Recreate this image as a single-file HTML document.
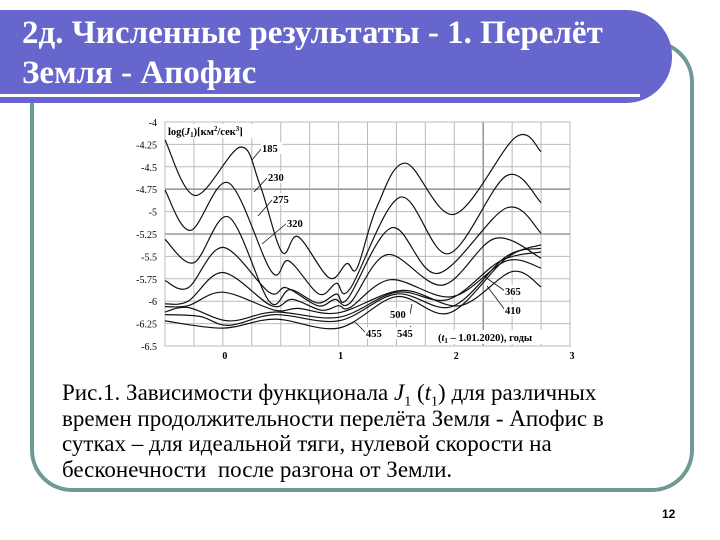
<!DOCTYPE html>
<html><head><meta charset="utf-8">
<style>
body{margin:0;width:720px;height:540px;background:#fff;position:relative;overflow:hidden;font-family:"Liberation Serif","DejaVu Serif",serif}
#frame{position:absolute;left:30px;top:40px;width:656px;height:444px;border:4px solid #6e9a96;border-radius:42px}
#banner{position:absolute;left:0;top:10px;width:672px;height:93px;background:#6666cc;border-radius:0 46px 46px 0}
#bline{position:absolute;left:0;top:94px;width:640px;height:3px;background:#fff}
#title{position:absolute;left:22px;top:13px;color:#fff;font-weight:bold;font-size:33px;line-height:40px;font-family:"Liberation Serif","DejaVu Serif",serif;white-space:nowrap}
#caption{position:absolute;left:62px;top:380px;font-size:23px;line-height:25.5px;color:#000;font-family:"Liberation Serif","DejaVu Serif",serif;white-space:nowrap}
#caption sub{font-size:14px;line-height:0}
#pnum{position:absolute;left:662px;top:507px;font:bold 12px "Liberation Sans",sans-serif}
svg{position:absolute;left:0;top:0}
</style></head><body>
<div id="frame"></div>
<div id="banner"></div>
<div id="bline"></div>
<div id="title">2д. Численные результаты - 1. Перелёт<br>Земля - Апофис</div>
<svg id="chart" width="720" height="540"></svg>
<div id="caption">Рис.1. Зависимости функционала <i>J</i><sub>1</sub> (<i>t</i><sub>1</sub>) для различных<br>времен продолжительности перелёта Земля - Апофис в<br>сутках – для идеальной тяги, нулевой скорости на<br>бесконечности&nbsp; после разгона от Земли.</div>
<div id="pnum">12</div>
<script>
const seriesNames=["185","230","275","320","365","410","455","500","545"];
const t185=[-0.5,-0.24,0.15,0.32,0.51,0.65,0.92,1.07,1.16,1.33,1.58,2.0,2.53,2.75];
const v185=[-4.2,-4.82,-4.28,-4.7,-5.45,-5.28,-5.74,-5.58,-5.63,-4.95,-4.46,-5.03,-4.17,-4.33];
const t230=[-0.5,-0.28,0.05,0.42,0.57,0.83,0.98,1.1,1.53,1.95,2.45,2.75];
const v230=[-4.76,-5.21,-4.68,-5.67,-5.55,-5.92,-5.8,-5.86,-4.84,-5.47,-4.6,-4.9];
const t275=[-0.5,-0.25,0.05,0.4,0.58,0.82,0.98,1.08,1.46,1.86,2.45,2.75];
const v275=[-5.31,-5.57,-5.06,-6.0,-5.87,-6.02,-5.92,-5.97,-5.18,-5.69,-4.96,-5.24];
const t320=[-0.5,-0.3,0.0,0.4,0.55,0.82,0.97,1.1,1.42,1.9,2.35,2.75];
const v320=[-5.77,-5.85,-5.4,-5.9,-5.85,-6.05,-5.98,-6.02,-5.48,-5.82,-5.3,-5.52];
const t365=[-0.5,-0.3,0.0,0.42,0.6,0.85,1.0,1.1,1.45,1.98,2.45,2.75];
const v365=[-6.03,-6.0,-5.68,-6.05,-5.98,-6.1,-6.05,-6.07,-5.76,-5.95,-5.55,-5.63];
const t410=[-0.5,-0.3,0.0,0.45,0.65,1.0,1.55,2.05,2.5,2.75];
const v410=[-6.06,-6.05,-5.9,-6.1,-6.08,-6.13,-5.88,-6.05,-5.67,-5.84];
const t455=[-0.5,-0.3,0.05,0.45,1.0,1.5,1.95,2.4,2.75];
const v455=[-6.12,-6.07,-6.22,-6.12,-6.18,-5.9,-5.98,-5.55,-5.45];
const t500=[-0.5,-0.2,0.05,0.45,1.0,1.5,1.98,2.45,2.75];
const v500=[-6.15,-6.17,-6.27,-6.15,-6.22,-5.92,-6.06,-5.5,-5.41];
const t545=[-0.5,0.0,0.45,1.0,1.5,1.96,2.45,2.75];
const v545=[-6.22,-6.3,-6.2,-6.3,-5.95,-6.13,-5.52,-5.37];
const yTicks=[-4,-4.25,-4.5,-4.75,-5,-5.25,-5.5,-5.75,-6,-6.25,-6.5];
const xTicks=[0,1,2,3];

const T=[t185,t230,t275,t320,t365,t410,t455,t500,t545];
const V=[v185,v230,v275,v320,v365,v410,v455,v500,v545];
const X0=-0.5,X1=3,Y0=-6.5,Y1=-4;
const PL=165,PR=570,PT=122,PB=346;
const sx=t=>PL+(t-X0)/(X1-X0)*(PR-PL);
const sy=v=>PB-(v-Y0)/(Y1-Y0)*(PB-PT);
const svg=document.getElementById('chart');
const NS='http://www.w3.org/2000/svg';
function mk(tag,attrs){const e=document.createElementNS(NS,tag);for(const k in attrs)e.setAttribute(k,attrs[k]);svg.appendChild(e);return e;}
const bg=mk('rect',{x:PL,y:PT,width:PR-PL,height:PB-PT,fill:'#fff',stroke:'#888','stroke-width':1});


for(let g=X0;g<=X1+1e-9;g+=0.25){
  const b=Math.abs(g-2.25)<1e-6;
  const l=mk('line',{x1:sx(g),x2:sx(g),y1:PT,y2:PB,stroke:b?'#999':'#bbb','stroke-width':b?1.6:1});
  
  
}
yTicks.forEach(v=>{
  const bold=Math.abs(v+4.75)<1e-6||Math.abs(v+5.25)<1e-6;
  const l=mk('line',{x1:PL,x2:PR,y1:sy(v),y2:sy(v),stroke:bold?'#999':'#bbb','stroke-width':bold?1.6:1});
  
  
  const tx=mk('text',{x:PL-8,y:sy(v)+4,'text-anchor':'end','font-size':10,'font-family':'Liberation Serif, serif'});
  tx.textContent=String(v);
  
  
});
xTicks.forEach(v=>{
  const tx=mk('text',{x:sx(v)+2,y:PB+13,'text-anchor':'middle','font-size':10,'font-weight':'bold','font-family':'Liberation Serif, serif'});
  tx.textContent=String(v);
  
  
});
function pathFor(ts,vs){
  const P=ts.map((t,i)=>[sx(t),sy(vs[i])]);
  let d='M'+P[0][0].toFixed(1)+' '+P[0][1].toFixed(1);
  for(let i=0;i<P.length-1;i++){
    const p0=P[i-1]||P[i],p1=P[i],p2=P[i+1],p3=P[i+2]||P[i+1];
    const c1=[p1[0]+(p2[0]-p0[0])/6,p1[1]+(p2[1]-p0[1])/6];
    const c2=[p2[0]-(p3[0]-p1[0])/6,p2[1]-(p3[1]-p1[1])/6];
    d+=' C'+c1[0].toFixed(1)+' '+c1[1].toFixed(1)+' '+c2[0].toFixed(1)+' '+c2[1].toFixed(1)+' '+p2[0].toFixed(1)+' '+p2[1].toFixed(1);
  }
  return d;
}
T.forEach((ts,i)=>{
  const p=mk('path',{d:pathFor(ts,V[i]),fill:'none',stroke:'#111','stroke-width':1.2});
  
  
});
const ann=[["185",262,152,252,160],["230",268,181,254,192],["275",273,203,258,216],["320",287,227,262,244],["365",505,295,485,277],["410",505,314,487,286],["500",390,318,412,304],["455",366,337,355,322],["545",397,337,410,326]];
ann.forEach(a=>{
  const l=mk('line',{x1:a[3],y1:a[4],x2:a[1]+(a[1]>a[3]?0:20),y2:a[2]-4,stroke:'#111','stroke-width':0.8});
  
  
  const r=mk('rect',{x:a[1]-1,y:a[2]-10,width:21,height:12,fill:'#fff'});
  
  
  const tx=mk('text',{x:a[1],y:a[2],'font-size':10.5,'font-weight':'bold','font-family':'Liberation Serif, serif'});
  tx.textContent=a[0];
  
  
});
const yr=mk('rect',{x:167,y:124,width:106,height:14,fill:'#fff'});


const yt=mk('text',{x:168,y:135,'font-size':10.5,'font-weight':'bold','font-family':'Liberation Serif, serif'});
yt.innerHTML='log(<tspan font-style="italic">J</tspan><tspan font-size="7" dy="2">1</tspan><tspan dy="-2">)[км</tspan><tspan font-size="7" dy="-4">2</tspan><tspan dy="4">/сек</tspan><tspan font-size="7" dy="-4">3</tspan><tspan dy="4">]</tspan>';


const xr=mk('rect',{x:434,y:330,width:134,height:14,fill:'#fff'});


const xt=mk('text',{x:438,y:341,'font-size':10.5,'font-weight':'bold','font-family':'Liberation Serif, serif'});
xt.innerHTML='(<tspan font-style="italic">t</tspan><tspan font-size="7" dy="2">1</tspan><tspan dy="-2"> – 1.01.2020), годы</tspan>';


</script>
</body></html>
